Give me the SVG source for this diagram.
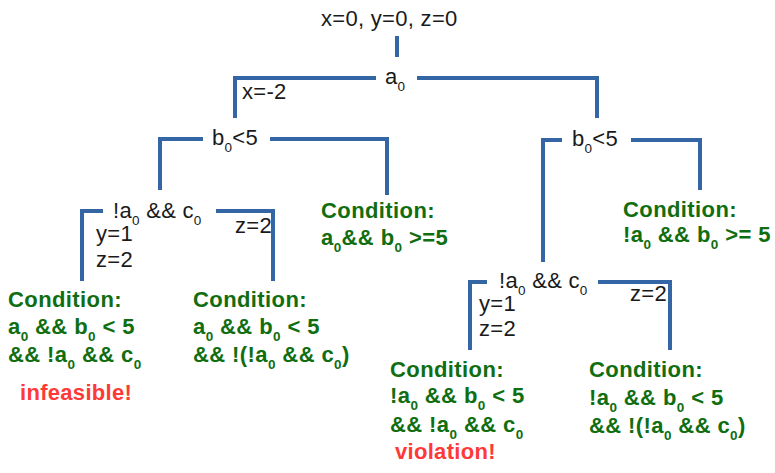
<svg xmlns="http://www.w3.org/2000/svg" width="775" height="473" viewBox="0 0 775 473">
<style>
.ln{fill:none;stroke:#3465a4;stroke-width:4;stroke-linejoin:miter;stroke-linecap:butt}
.t{font-family:"Liberation Sans",Arial,sans-serif;font-size:22px;fill:#1a1a1a;letter-spacing:0.3px}
.c{font-family:"Liberation Sans",Arial,sans-serif;font-size:22px;font-weight:bold;fill:#106e10;letter-spacing:0.4px}
.r{font-family:"Liberation Sans",Arial,sans-serif;font-size:22px;font-weight:bold;fill:#ff3838;letter-spacing:0.3px}
.s{font-size:13.5px}
</style>
<rect width="775" height="473" fill="#ffffff"/>
<g id="connectors">
<path class="ln" d="M397,36 V57"/>
<path class="ln" d="M376,78 H235 V118 M417,78 H597 V118"/>
<path class="ln" d="M203,139 H160 V190 M270,139 H387 V195"/>
<path class="ln" d="M562,140 H543 V262 M631,140 H700 V190"/>
<path class="ln" d="M103,211 H82 V281 M216,211 H273 V281"/>
<path class="ln" d="M487,282 H470 V350 M598,282 H670 V350"/>
</g>
<g id="start"><text class="t" x="321" y="26">x=0, y=0, z=0</text></g>
<g id="a0"><text class="t" x="385" y="84">a<tspan class="s" dy="6.5">0</tspan></text>
<text class="t" x="242" y="99">x=-2</text></g>
<g id="b0-left"><text class="t" x="212" y="145">b<tspan class="s" dy="6.5">0</tspan><tspan dy="-6.5">&lt;5</tspan></text></g>
<g id="b0-right"><text class="t" x="572" y="146">b<tspan class="s" dy="6.5">0</tspan><tspan dy="-6.5">&lt;5</tspan></text></g>
<g id="nac-left"><text class="t" x="113" y="218">!a<tspan class="s" dy="6.5">0</tspan><tspan dy="-6.5"> &amp;&amp; c</tspan><tspan class="s" dy="6.5">0</tspan></text>
<text class="t" x="96" y="241">y=1</text>
<text class="t" x="96" y="267">z=2</text>
<text class="t" x="235" y="233">z=2</text></g>
<g id="nac-right"><text class="t" x="499" y="288">!a<tspan class="s" dy="6.5">0</tspan><tspan dy="-6.5"> &amp;&amp; c</tspan><tspan class="s" dy="6.5">0</tspan></text>
<text class="t" x="479" y="311">y=1</text>
<text class="t" x="479" y="336">z=2</text>
<text class="t" x="630" y="301">z=2</text></g>
<g id="cond-a"><text class="c" x="8" y="307">Condition:</text>
<text class="c" x="8" y="334">a<tspan class="s" dy="6.5">0</tspan><tspan dy="-6.5"> &amp;&amp; b</tspan><tspan class="s" dy="6.5">0</tspan><tspan dy="-6.5"> &lt; 5</tspan></text>
<text class="c" x="8" y="362">&amp;&amp; !a<tspan class="s" dy="6.5">0</tspan><tspan dy="-6.5"> &amp;&amp; c</tspan><tspan class="s" dy="6.5">0</tspan></text>
<text class="r" x="20" y="400">infeasible!</text></g>
<g id="cond-b"><text class="c" x="193" y="307">Condition:</text>
<text class="c" x="193" y="334">a<tspan class="s" dy="6.5">0</tspan><tspan dy="-6.5"> &amp;&amp; b</tspan><tspan class="s" dy="6.5">0</tspan><tspan dy="-6.5"> &lt; 5</tspan></text>
<text class="c" x="193" y="362">&amp;&amp; !(!a<tspan class="s" dy="6.5">0</tspan><tspan dy="-6.5"> &amp;&amp; c</tspan><tspan class="s" dy="6.5">0</tspan><tspan dy="-6.5">)</tspan></text></g>
<g id="cond-c"><text class="c" x="321" y="218">Condition:</text>
<text class="c" x="321" y="245">a<tspan class="s" dy="6.5">0</tspan><tspan dy="-6.5">&amp;&amp; b</tspan><tspan class="s" dy="6.5">0</tspan><tspan dy="-6.5"> &gt;=5</tspan></text></g>
<g id="cond-d"><text class="c" x="623" y="217">Condition:</text>
<text class="c" x="623" y="242">!a<tspan class="s" dy="6.5">0</tspan><tspan dy="-6.5"> &amp;&amp; b</tspan><tspan class="s" dy="6.5">0</tspan><tspan dy="-6.5"> &gt;= 5</tspan></text></g>
<g id="cond-e"><text class="c" x="390" y="377">Condition:</text>
<text class="c" x="390" y="403">!a<tspan class="s" dy="6.5">0</tspan><tspan dy="-6.5"> &amp;&amp; b</tspan><tspan class="s" dy="6.5">0</tspan><tspan dy="-6.5"> &lt; 5</tspan></text>
<text class="c" x="390" y="432">&amp;&amp; !a<tspan class="s" dy="6.5">0</tspan><tspan dy="-6.5"> &amp;&amp; c</tspan><tspan class="s" dy="6.5">0</tspan></text>
<text class="r" x="395" y="459">violation!</text></g>
<g id="cond-f"><text class="c" x="589" y="377">Condition:</text>
<text class="c" x="589" y="405">!a<tspan class="s" dy="6.5">0</tspan><tspan dy="-6.5"> &amp;&amp; b</tspan><tspan class="s" dy="6.5">0</tspan><tspan dy="-6.5"> &lt; 5</tspan></text>
<text class="c" x="589" y="433">&amp;&amp; !(!a<tspan class="s" dy="6.5">0</tspan><tspan dy="-6.5"> &amp;&amp; c</tspan><tspan class="s" dy="6.5">0</tspan><tspan dy="-6.5">)</tspan></text></g>
</svg>
